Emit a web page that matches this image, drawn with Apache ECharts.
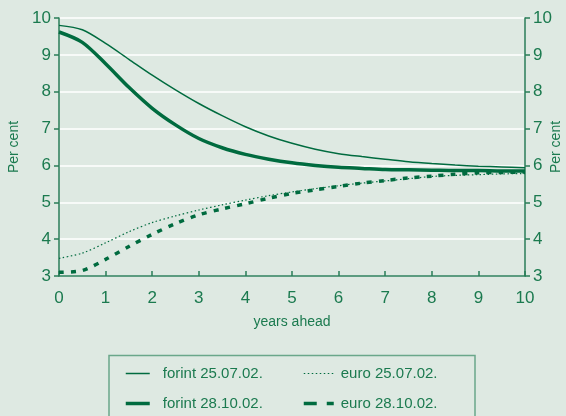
<!DOCTYPE html>
<html>
<head>
<meta charset="utf-8">
<script src="https://cdn.jsdelivr.net/npm/echarts@6/dist/echarts.min.js"></script>
<style>
  html, body { margin: 0; padding: 0; background: #dee9e2; }
  #chart { width: 566px; height: 416px; }
</style>
</head>
<body>
<div id="chart"></div>
<script>
// years ahead
const years = [0, 0.5, 1, 1.5, 2, 2.5, 3, 3.5, 4, 4.5, 5, 5.5, 6, 6.5, 7, 7.5, 8, 8.5, 9, 9.5, 10]
const forintJul = [9.80, 9.68, 9.31, 8.88, 8.45, 8.05, 7.68, 7.35, 7.05, 6.80, 6.60, 6.44, 6.32, 6.24, 6.17, 6.10, 6.05, 6.01, 5.98, 5.96, 5.94]
const forintOct = [9.62, 9.34, 8.76, 8.12, 7.55, 7.10, 6.73, 6.48, 6.30, 6.17, 6.07, 6.00, 5.95, 5.92, 5.89, 5.88, 5.87, 5.86, 5.86, 5.85, 5.85]
const euroJul = [3.48, 3.62, 3.90, 4.20, 4.45, 4.63, 4.79, 4.93, 5.06, 5.18, 5.28, 5.37, 5.45, 5.52, 5.58, 5.64, 5.70, 5.73, 5.75, 5.77, 5.78]
const euroOct = [3.10, 3.15, 3.45, 3.80, 4.13, 4.42, 4.66, 4.82, 4.96, 5.11, 5.24, 5.34, 5.43, 5.52, 5.59, 5.66, 5.71, 5.76, 5.80, 5.81, 5.82]
const seriesNames = ['forint 25.07.02.', 'forint 28.10.02.', 'euro 25.07.02.', 'euro 28.10.02.']

const green = '#006b3f'
const axisGreen = '#2a7d58'
const textGreen = '#1b7a4f'
const font = '"Liberation Sans Narrow", "Liberation Sans", Arial, sans-serif'

const pairs = arr => years.map((y, i) => [y, arr[i]])

const yAxisBase = {
  type: 'value',
  min: 3,
  max: 10,
  interval: 1,
  name: 'Per cent',
  nameLocation: 'middle',
  nameGap: 36,
  nameTextStyle: { color: textGreen, fontSize: 14, fontFamily: font },
  axisLine: { show: true, lineStyle: { color: axisGreen, width: 1.5 } },
  axisTick: { show: true, length: 5, lineStyle: { color: axisGreen, width: 1.5 } },
  axisLabel: { color: textGreen, fontSize: 17, fontFamily: font, margin: 8 },
  splitLine: { show: true, lineStyle: { color: '#ffffff', width: 1.5 } }
}

const legendBase = {
  orient: 'vertical',
  top: 361,
  itemHeight: 12,
  itemGap: 15,
  itemStyle: { opacity: 0 },
  textStyle: { color: textGreen, fontSize: 15, fontFamily: font }
}

const chart = echarts.init(document.getElementById('chart'))
chart.setOption({
  backgroundColor: '#dee9e2',
  animation: false,
  grid: { left: 59, right: 41, top: 18, bottom: 140, outerBoundsMode: 'none' },
  xAxis: {
    type: 'value',
    min: 0,
    max: 10,
    interval: 1,
    name: 'years ahead',
    nameLocation: 'middle',
    nameGap: 39,
    nameTextStyle: { color: textGreen, fontSize: 14, fontFamily: font },
    axisLine: { show: true, lineStyle: { color: axisGreen, width: 1.5 } },
    axisTick: { show: true, inside: true, length: 5, lineStyle: { color: axisGreen, width: 1.5 } },
    axisLabel: { color: textGreen, fontSize: 17, fontFamily: font, margin: 14 },
    splitLine: { show: false }
  },
  yAxis: [
    Object.assign({}, yAxisBase, { position: 'left' }),
    Object.assign({}, yAxisBase, {
      position: 'right',
      nameGap: 24,
      nameMoveOverlap: false,
      splitLine: { show: false }
    })
  ],
  legend: [
    Object.assign({}, legendBase, {
      data: [
        { name: seriesNames[0], lineStyle: { width: 1.5 } },
        { name: seriesNames[1], lineStyle: { width: 3.5 } }
      ],
      left: 119,
      itemWidth: 24,
      textStyle: Object.assign({}, legendBase.textStyle, { padding: [0, 0, 0, 8] })
    }),
    Object.assign({}, legendBase, {
      data: [
        { name: seriesNames[2], lineStyle: { width: 1.2, type: [1.5, 2.5] } },
        { name: seriesNames[3], lineStyle: { width: 3.5, type: [13, 10] } }
      ],
      left: 297,
      itemWidth: 30,
      textStyle: Object.assign({}, legendBase.textStyle, { padding: [0, 0, 0, 2] })
    })
  ],
  graphic: [
    {
      type: 'rect',
      shape: { x: 109, y: 355.5, width: 366, height: 80 },
      style: { fill: 'none', stroke: '#6aa78a', lineWidth: 1.5 }
    }
  ],
  series: [
    {
      name: seriesNames[0], type: 'line', smooth: 0.3, symbol: 'none',
      data: pairs(forintJul),
      lineStyle: { color: green, width: 1.5 }, itemStyle: { color: green }
    },
    {
      name: seriesNames[1], type: 'line', smooth: 0.3, symbol: 'none',
      data: pairs(forintOct),
      lineStyle: { color: green, width: 3.5 }, itemStyle: { color: green }
    },
    {
      name: seriesNames[2], type: 'line', smooth: 0.3, symbol: 'none',
      data: pairs(euroJul),
      lineStyle: { color: green, width: 1.2, type: [1.5, 2.5] }, itemStyle: { color: green }
    },
    {
      name: seriesNames[3], type: 'line', smooth: 0.3, symbol: 'none',
      data: pairs(euroOct),
      lineStyle: { color: green, width: 3.5, type: [5, 7] }, itemStyle: { color: green }
    }
  ]
})
</script>
</body>
</html>
